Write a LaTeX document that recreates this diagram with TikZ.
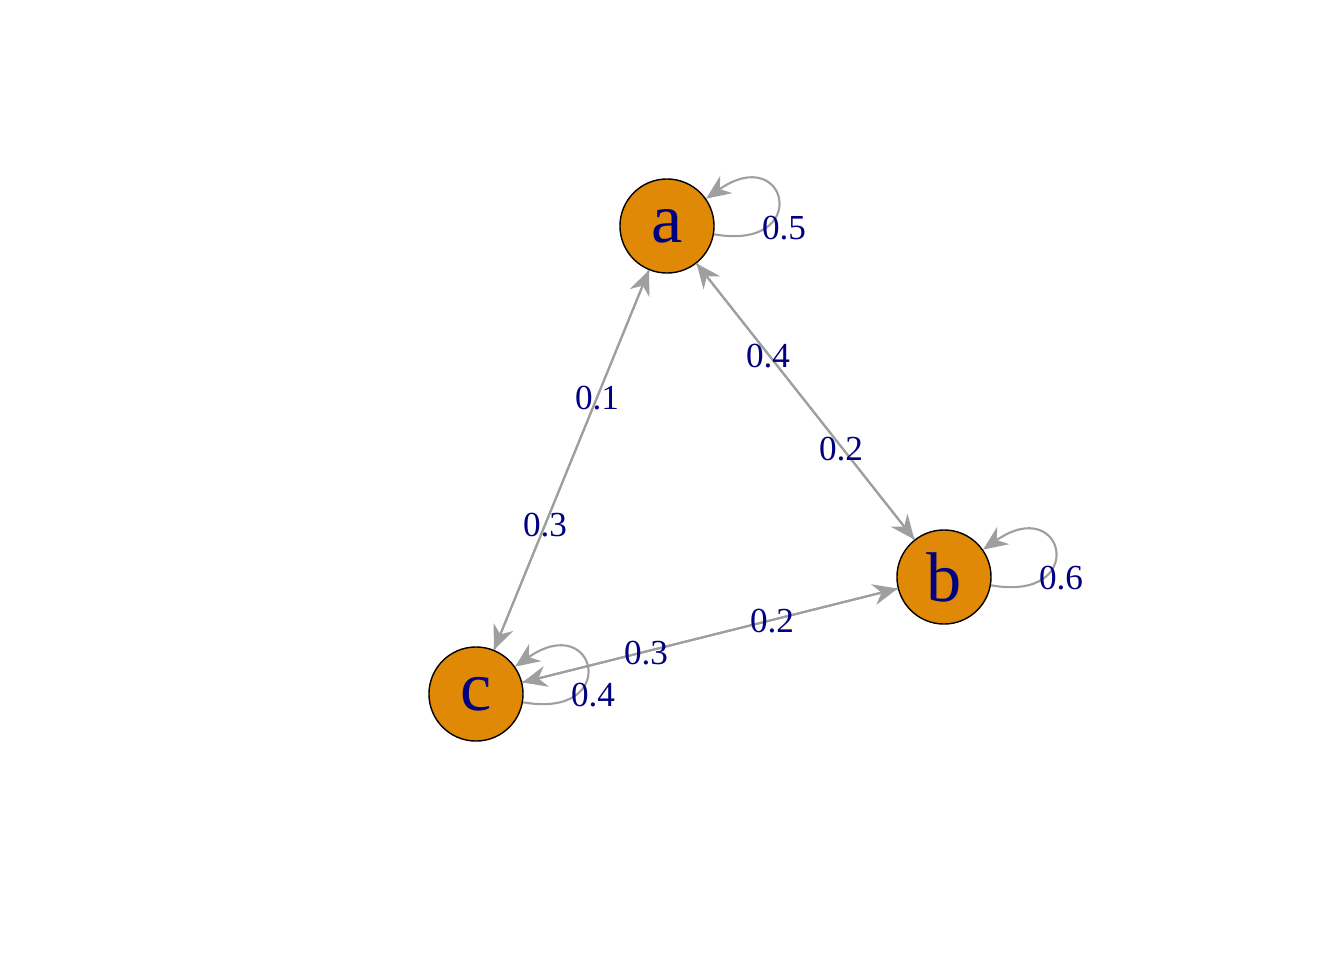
\documentclass[tikz,border=0pt]{standalone}
\usepackage{fontspec}
\setmainfont{Liberation Serif}
\usetikzlibrary{arrows.meta}
\definecolor{vfill}{RGB}{223, 137, 6}
\definecolor{lblue}{RGB}{0, 0, 128}
\tikzset{
    vertex/.style={circle, draw=black, fill=vfill, minimum size=0.94cm, inner sep=0pt,
        text=lblue, font=\fontsize{20}{20}\selectfont},
    link/.style={draw=gray!75, semithick, -{Stealth[length=7pt, width=6pt]}},
    weight/.style={text=lblue, font=\fontsize{10}{10}\selectfont, inner sep=1pt}
}
\begin{document}
\begin{tikzpicture}[x=0.01cm, y=-0.01cm]

    \useasboundingbox (0, 0) rectangle (1344, 960);

    \node[vertex] (a) at (667, 226) {a};
    \node[vertex] (b) at (944, 577) {b};
    \node[vertex] (c) at (476, 694) {c};

    % straight links, both ways
    \draw[link] (a) -- (b);
    \draw[link] (b) -- (a);
    \draw[link] (a) -- (c);
    \draw[link] (c) -- (a);
    \draw[link] (b) -- (c);
    \draw[link] (c) -- (b);

    % self loops
    \foreach \v in {a, b, c} {%
        \draw[link] (\v) to[out=-10, in=35, looseness=7] (\v);
    };

    \node[weight] (wab) at (768, 356) {0.4};
    \node[weight] (wba) at (841, 449) {0.2};
    \node[weight] (wac) at (597, 398) {0.1};
    \node[weight] (wca) at (545, 525) {0.3};
    \node[weight] (wbc) at (772, 621) {0.2};
    \node[weight] (wcb) at (646, 653) {0.3};
    \node[weight] (waa) at (784, 228) {0.5};
    \node[weight] (wbb) at (1061, 578) {0.6};
    \node[weight] (wcc) at (593, 695) {0.4};

\end{tikzpicture}
\end{document}
